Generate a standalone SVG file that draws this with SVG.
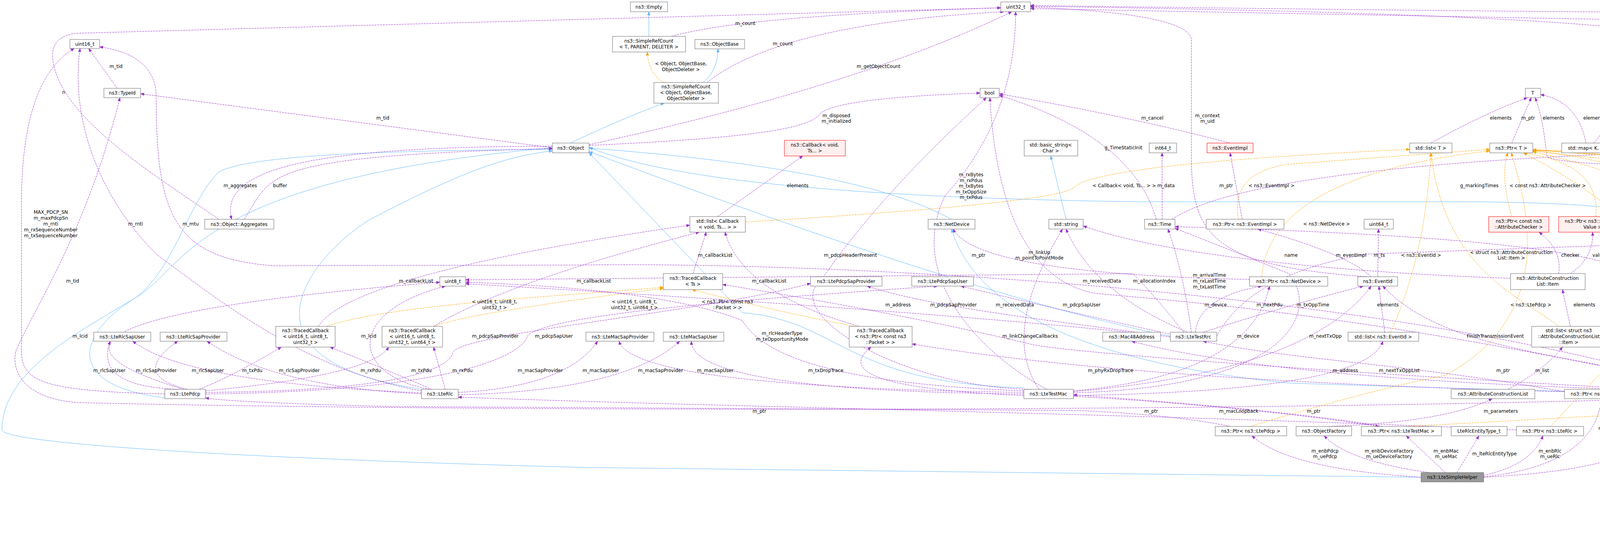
<svg xmlns="http://www.w3.org/2000/svg" width="6008" height="1379" viewBox="0 0 6008 1379">
<defs>
<style>
text{font-family:"DejaVu Sans","Liberation Sans",sans-serif;font-size:12px;fill:#000}
.n rect{fill:#fff;stroke:#666;stroke-width:1}
.r rect{fill:#fff0f0;stroke:#f00}
.h rect{fill:#999;stroke:#666}
.n text{text-anchor:middle}
.l text, text.l{text-anchor:middle}
.e{fill:none;stroke:#9a32cd;stroke-dasharray:5,2;marker-end:url(#ap)}
.b{fill:none;stroke:#63b8ff;marker-end:url(#ab)}
.o{fill:none;stroke:#ffa500;stroke-dasharray:5,2;marker-end:url(#ao)}
</style>
<marker id="ap" markerWidth="10" markerHeight="8" refX="9" refY="4" orient="auto" markerUnits="userSpaceOnUse"><path d="M0,0 L10,4 L0,8z" fill="#9a32cd"/></marker>
<marker id="ab" markerWidth="10" markerHeight="8" refX="9" refY="4" orient="auto" markerUnits="userSpaceOnUse"><path d="M0,0 L10,4 L0,8z" fill="#63b8ff"/></marker>
<marker id="ao" markerWidth="10" markerHeight="8" refX="9" refY="4" orient="auto" markerUnits="userSpaceOnUse"><path d="M0,0 L10,4 L0,8z" fill="#ffa500"/></marker>
</defs>
<rect width="6008" height="1379" fill="#fff"/>
<g id="edges">
<path class="b" d="M1661,93 L1661,30"/>
<path class="o" d="M1700,211 Q1660,190 1657,133"/>
<path class="b" d="M1800,211 Q1838,180 1838,125"/>
<path class="b" d="M1460,366 Q1600,300 1700,264"/>
<path class="b" d="M440,1020 C150,990 200,850 350,760 C480,680 500,460 1414,378"/>
<path class="b" d="M1110,1000 C560,930 800,650 950,560 C1200,430 1300,400 1414,386"/>
<path class="b" d="M3638,1221 L1500,1196 C500,1170 5,1130 5,1100 C5,950 200,850 350,760 C450,680 480,520 560,440 C650,390 1100,385 1414,382"/>
<path class="b" d="M2436,561 Q2200,430 1508,379"/>
<path class="b" d="M4243,561 Q4180,516 3700,516 L2900,516 Q1800,500 1508,377"/>
<path class="b" d="M2996,860 Q2500,760 1508,388"/>
<path class="b" d="M2621,992 C2160,980 2150,820 1900,800 L1508,391"/>
<path class="b" d="M4401,1010 Q3900,1000 3300,980 C2800,930 2500,800 2436,586"/>
<path class="b" d="M2729,561 L2690,399"/>
<path class="b" d="M4210,708 L4243,586"/>
<path class="e" d="M560,561 C400,450 150,300 135,150 Q130,90 200,85 L2562,20"/>
<path class="e" d="M1414,378 L360,240"/>
<path class="e" d="M1414,374 C800,375 560,430 593,561"/>
<path class="e" d="M625,561 C700,450 650,400 1414,380"/>
<path class="e" d="M300,226 L227,124"/>
<path class="e" d="M4401,1016 C3000,1060 1000,1050 200,1030 C60,1020 30,950 40,900 C80,800 220,600 307,250"/>
<path class="e" d="M422,1008 C120,1000 55,980 55,900 L55,500 Q60,200 190,124"/>
<path class="e" d="M1079,1000 C800,950 600,800 400,650 C250,500 180,300 205,124"/>
<path class="e" d="M4401,1004 C3500,720 2000,670 1500,678 L700,680 C450,660 400,560 400,250 Q400,140 255,120"/>
<path class="e" d="M470,996 C150,900 150,800 1126,722"/>
<path class="e" d="M1100,996 C900,960 880,800 1140,732"/>
<path class="o" d="M835,835 C1000,780 1400,760 1698,735"/>
<path class="o" d="M1110,835 Q1200,800 1698,738"/>
<path class="e" d="M815,835 Q900,700 1766,576"/>
<path class="e" d="M1110,835 Q1300,720 1790,594"/>
<path class="e" d="M1774,700 L1808,594"/>
<path class="e" d="M2200,835 Q1900,750 1856,594"/>
<path class="o" d="M2190,835 Q2000,800 1772,741"/>
<path class="e" d="M460,996 Q240,990 282,873"/>
<path class="e" d="M1079,1005 Q480,980 340,873"/>
<path class="e" d="M480,996 Q330,960 455,873"/>
<path class="e" d="M1085,1008 Q700,990 530,873"/>
<path class="e" d="M510,996 Q600,960 720,888"/>
<path class="e" d="M1105,996 Q1000,950 845,888"/>
<path class="e" d="M526,1000 Q950,960 995,888"/>
<path class="e" d="M1140,996 L1110,888"/>
<path class="e" d="M526,1004 C1000,1000 1150,950 1160,900 C1200,850 1800,800 2075,725"/>
<path class="e" d="M526,1008 C1200,1000 1340,900 1350,860 C1400,800 2000,760 2400,732"/>
<path class="e" d="M2996,862 C2700,820 2400,790 2220,732"/>
<path class="e" d="M3000,856 Q2700,790 2460,732"/>
<path class="e" d="M1173,1004 Q1450,990 1530,873"/>
<path class="e" d="M1173,1010 Q1600,1000 1740,873"/>
<path class="e" d="M2621,1004 Q1620,990 1585,873"/>
<path class="e" d="M2621,1008 Q1770,1000 1770,873"/>
<path class="e" d="M1720,93 Q1900,40 2562,20"/>
<path class="e" d="M1810,211 Q2000,60 2570,30"/>
<path class="e" d="M1508,370 Q2200,220 2590,30"/>
<path class="e" d="M1508,372 C2000,350 2080,320 2100,290 Q2150,250 2509,238"/>
<path class="e" d="M1837,554 L2055,399"/>
<path class="o" d="M1908,568 Q2700,520 2750,480 Q2800,420 3609,382"/>
<path class="e" d="M2640,996 C2300,990 2000,800 2100,720 Q2250,500 2525,250"/>
<path class="e" d="M2680,996 C2500,900 2320,700 2420,500 Q2600,300 2600,30"/>
<path class="e" d="M3199,715 Q2500,700 2440,586"/>
<path class="e" d="M4401,1000 C3500,800 3000,770 2800,750 Q2560,700 2534,250"/>
<path class="e" d="M3040,850 Q2800,750 2729,586"/>
<path class="e" d="M2660,996 Q2560,850 2720,586"/>
<path class="e" d="M3149,366 Q2900,300 2558,240"/>
<path class="e" d="M2960,561 Q2900,350 2558,244"/>
<path class="e" d="M2975,561 L2975,391"/>
<path class="e" d="M4401,1002 Q3300,980 2897,873"/>
<path class="e" d="M2890,850 Q2300,790 1192,726"/>
<path class="e" d="M3030,850 Q2960,760 2900,700 L1192,716"/>
<path class="e" d="M2621,1012 Q2100,990 2230,888"/>
<path class="e" d="M4401,1010 Q3000,990 2335,880"/>
<path class="e" d="M2621,1000 C2100,980 1950,900 1900,820 Q1700,740 1192,722"/>
<path class="e" d="M4401,1006 C3500,960 2700,900 2637,880 Q2300,800 1850,728"/>
<path class="e" d="M3882,1100 C3000,1060 1800,1040 1173,1016"/>
<path class="e" d="M3150,1091 Q3000,1060 2750,1050 L1000,1040 Q600,1030 526,1018"/>
<path class="e" d="M3540,1091 Q3300,1050 2748,1010"/>
<path class="e" d="M3180,561 L3149,391"/>
<path class="e" d="M3500,708 C3100,680 3050,600 3050,400 L3050,100 Q3040,35 2638,18"/>
<path class="e" d="M4260,561 Q4305,300 4305,110 Q4300,40 2638,16"/>
<path class="e" d="M3663,366 Q3800,290 3910,250"/>
<path class="e" d="M3870,366 L3920,250"/>
<path class="e" d="M5260,463 C5000,430 4000,440 3960,400 Q3950,300 3930,250"/>
<path class="e" d="M4060,366 Q4040,260 3944,242"/>
<path class="e" d="M4080,366 L4175,250"/>
<path class="e" d="M4210,366 L4190,250"/>
<path class="o" d="M3170,561 Q3150,440 3300,420 L3814,382"/>
<path class="e" d="M3000,561 Q3200,430 4200,391"/>
<path class="o" d="M3870,554 Q3840,450 3860,391"/>
<path class="o" d="M4085,554 Q4100,420 3900,391"/>
<path class="o" d="M3230,708 Q3250,450 3814,386"/>
<path class="e" d="M3510,708 Q3450,650 3220,586"/>
<path class="e" d="M3527,708 L3529,586"/>
<path class="o" d="M3560,850 Q3650,650 3663,391"/>
<path class="o" d="M3990,835 C3900,760 3700,700 3663,391"/>
<path class="e" d="M3990,700 Q4000,640 3940,594"/>
<path class="e" d="M4020,700 Q4080,660 4077,594"/>
<path class="e" d="M3867,712 C3500,700 3000,660 2773,578"/>
<path class="e" d="M4180,708 Q4100,610 3008,580"/>
<path class="o" d="M4480,850 Q4480,700 4450,680 Q4400,440 3924,385"/>
<path class="e" d="M3050,850 Q3030,700 2990,586"/>
<path class="e" d="M3060,850 Q3070,760 3230,732"/>
<path class="e" d="M3080,850 Q3300,780 3490,732"/>
<path class="e" d="M2748,1005 C3300,990 3380,800 3300,700 Q3100,620 3008,584"/>
<path class="e" d="M3545,850 L3530,732"/>
<path class="o" d="M3200,1091 Q3500,1000 3700,960 C4000,800 3900,500 3869,391"/>
<path class="e" d="M4020,835 L4000,741"/>
<path class="o" d="M3970,1091 Q4100,950 4250,800 Q4300,600 3900,391"/>
<path class="e" d="M4430,850 Q4380,760 4250,732"/>
<path class="o" d="M4130,996 Q4300,850 4400,700 Q4420,500 3924,388"/>
<path class="e" d="M2748,1000 Q3200,960 3250,732"/>
<path class="e" d="M2748,1002 Q3350,950 3510,732"/>
<path class="e" d="M4401,998 C4000,900 3700,900 3540,732"/>
<path class="e" d="M2748,1012 Q3500,1000 3540,873"/>
<path class="e" d="M4005,1002 C3600,930 3300,920 3080,873"/>
<path class="e" d="M3860,996 Q3950,950 4000,888"/>
<path class="e" d="M4250,732 Q4330,850 4330,1000 Q4350,1080 4600,1100 L5293,1215"/>
<path class="e" d="M4230,732 Q4290,900 4420,1060 Q4600,1140 5392,1330"/>
<path class="e" d="M2748,1014 Q3200,1040 3530,1091"/>
<path class="e" d="M3400,1091 Q3700,1080 3820,1020"/>
<path class="e" d="M3798,1221 Q4200,1200 4240,1100 Q4300,1030 4400,873"/>
<path class="e" d="M3638,1221 Q3300,1200 3205,1115"/>
<path class="e" d="M3660,1209 Q3450,1180 3390,1115"/>
<path class="e" d="M3700,1209 L3600,1115"/>
<path class="e" d="M3730,1209 L3786,1115"/>
<path class="e" d="M3798,1216 Q3920,1190 3950,1115"/>
<path class="e" d="M3798,1220 Q4080,1190 4100,1020"/>
<path class="e" d="M3115,860 Q3200,700 3500,650 L4200,625 Q5300,600 5340,500 L5375,110 Q5380,80 5200,70 L2638,22"/>
<path class="e" d="M4567,1000 Q5400,950 5485,800 L5487,100 Q5480,30 5300,32 Q4500,40 2638,14"/>
<path class="e" d="M4510,996 Q4590,900 4590,800 Q4600,720 4660,675"/>
<path class="e" d="M4520,996 Q4650,900 4820,667"/>
<path class="e" d="M4530,996 Q4700,950 4700,850 Q4700,800 4808,790"/>
<path class="e" d="M4550,996 Q4800,960 4910,896"/>
<path class="e" d="M4567,998 Q5000,980 5120,903"/>
<path class="o" d="M4660,634 Q4560,500 4450,430 Q4200,420 3924,386"/>
<path class="o" d="M4840,641 Q4780,480 4700,440 L3924,384"/>
<path class="o" d="M4915,768 Q4940,600 4930,470 Q4900,420 3924,383"/>
<path class="o" d="M3600,1091 Q4000,1070 4500,1040 Q5200,960 5320,860 Q5200,800 5100,790 Q5000,700 5080,600 Q5050,440 3924,384"/>
<path class="o" d="M5390,1084 Q5400,800 5300,720 Q5100,460 3924,383"/>
<path class="o" d="M5440,1201 Q5520,1130 5520,1000 L5520,800 Q5400,700 5270,489"/>
<path class="o" d="M5634,1320 Q5740,1300 5740,1150 L5740,900 Q5600,600 5300,450 Q4800,415 4100,391"/>
<path class="e" d="M5298,1092 L4567,1016"/>
<path class="e" d="M5395,1201 L5392,1123"/>
<path class="e" d="M5525,1304 Q5530,1200 5430,1123"/>
<path class="e" d="M5480,1304 L5420,1240"/>
<path class="e" d="M4480,996 L4470,873"/>
<g class="l">
<text x="163" y="240">n</text>
<text x="980" y="306">m_tid</text>
<text x="615" y="479">m_aggregates</text>
<text x="717" y="479">buffer</text>
<text x="297" y="174">m_tid</text>
<text x="186" y="723">m_tid</text>
<text x="130" y="547">MAX_PDCP_SN</text><text x="130" y="562">m_maxPdcpSn</text><text x="130" y="577">m_rnti</text><text x="130" y="592">m_rxSequenceNumber</text><text x="130" y="607">m_txSequenceNumber</text>
<text x="347" y="577">m_rnti</text>
<text x="488" y="577">m_mtu</text>
<text x="205" y="864">m_lcid</text>
<text x="944" y="864">m_lcid</text>
<text x="1266" y="776">&lt; uint16_t, uint8_t,</text><text x="1266" y="791">uint32_t &gt;</text>
<text x="1624" y="776">&lt; uint16_t, uint8_t,</text><text x="1624" y="791">uint32_t, uint64_t &gt;</text>
<text x="1065" y="723">m_callbackList</text>
<text x="1520" y="723">m_callbackList</text>
<text x="1831" y="657">m_callbackList</text>
<text x="1969" y="723">m_callbackList</text>
<text x="1862" y="776">&lt; ns3::Ptr&lt; const ns3</text><text x="1862" y="791">::Packet &gt; &gt;</text>
<text x="280" y="952">m_rlcSapUser</text>
<text x="532" y="952">m_rlcSapUser</text>
<text x="400" y="952">m_rlcSapProvider</text>
<text x="766" y="952">m_rlcSapProvider</text>
<text x="646" y="952">m_txPdu</text>
<text x="1079" y="952">m_txPdu</text>
<text x="949" y="952">m_rxPdu</text>
<text x="1184" y="952">m_rxPdu</text>
<text x="1268" y="864">m_pdcpSapProvider</text>
<text x="1418" y="864">m_pdcpSapUser</text>
<text x="2441" y="784">m_pdcpSapProvider</text>
<text x="2769" y="784">m_pdcpSapUser</text>
<text x="1383" y="952">m_macSapProvider</text>
<text x="1538" y="952">m_macSapUser</text>
<text x="1691" y="952">m_macSapProvider</text>
<text x="1831" y="952">m_macSapUser</text>
<text x="1908" y="64">m_count</text>
<text x="2004" y="116">m_count</text>
<text x="1743" y="167">&lt; Object, ObjectBase,</text><text x="1743" y="182">ObjectDeleter &gt;</text>
<text x="2249" y="174">m_getObjectCount</text>
<text x="2141" y="300">m_disposed</text><text x="2141" y="314">m_initialized</text>
<text x="2042" y="479">elements</text>
<text x="2878" y="479">&lt; Callback&lt; void, Ts... &gt; &gt;</text>
<text x="2177" y="657">m_pdcpHeaderPresent</text>
<text x="2486" y="451">m_rxBytes</text><text x="2486" y="466">m_rxPdus</text><text x="2486" y="480">m_txBytes</text><text x="2486" y="495">m_txOppSize</text><text x="2486" y="509">m_txPdus</text>
<text x="2505" y="657">m_ptr</text>
<text x="2661" y="650">m_linkUp</text><text x="2661" y="664">m_pointToPointMode</text>
<text x="2821" y="723">m_receivedData</text>
<text x="2598" y="784">m_receivedData</text>
<text x="2950" y="306">m_cancel</text>
<text x="2876" y="382">g_TimeStaticInit</text>
<text x="2985" y="479">m_data</text>
<text x="2299" y="784">m_address</text>
<text x="2955" y="723">m_allocationIndex</text>
<text x="3444" y="952">m_address</text>
<text x="2114" y="952">m_txDropTrace</text>
<text x="2843" y="952">m_phyRxDropTrace</text>
<text x="2002" y="857">m_rlcHeaderType</text><text x="2002" y="872">m_txOpportunityMode</text>
<text x="2637" y="864">m_linkChangeCallbacks</text>
<text x="1944" y="1056">m_ptr</text>
<text x="2947" y="1056">m_ptr</text>
<text x="3363" y="1056">m_ptr</text>
<text x="3139" y="479">m_ptr</text>
<text x="3091" y="300">m_context</text><text x="3091" y="314">m_uid</text>
<text x="4325" y="240">m_id</text>
<text x="3842" y="306">elements</text>
<text x="3912" y="306">m_ptr</text>
<text x="3977" y="306">elements</text>
<text x="4081" y="306">elements</text>
<text x="4166" y="306">keys</text>
<text x="4220" y="306">keys</text>
<text x="3255" y="479">&lt; ns3::EventImpl &gt;</text>
<text x="3787" y="479">g_markingTimes</text>
<text x="3962" y="479">&lt; const ns3::AttributeChecker &gt;</text>
<text x="4169" y="479">&lt; ns3::AttributeValue &gt;</text>
<text x="3396" y="577">&lt; ns3::NetDevice &gt;</text>
<text x="3459" y="657">m_eventImpl</text>
<text x="3531" y="657">m_ts</text>
<text x="3638" y="657">&lt; ns3::EventId &gt;</text>
<text x="3869" y="650">&lt; struct ns3::AttributeConstruction</text><text x="3869" y="664">List::Item &gt;</text>
<text x="4020" y="657">checker</text>
<text x="4093" y="657">value</text>
<text x="3305" y="657">name</text>
<text x="4203" y="657">m_delay</text>
<text x="4464" y="657">&lt; ns3::SimpleChannel &gt;</text>
<text x="3096" y="708">m_arrivalTime</text><text x="3096" y="723">m_rxLastTime</text><text x="3096" y="738">m_txLastTime</text>
<text x="3112" y="784">m_device</text>
<text x="3250" y="784">m_nextPdu</text>
<text x="3361" y="784">m_txOppTime</text>
<text x="3553" y="784">elements</text>
<text x="3919" y="784">&lt; ns3::LtePdcp &gt;</text>
<text x="4056" y="784">elements</text>
<text x="4254" y="784">&lt; ns3::LteRlc &gt;</text>
<text x="4409" y="784">m_ptr</text>
<text x="4424" y="723">&lt; ns3::LteTestRrc &gt;</text>
<text x="3195" y="864">m_device</text>
<text x="3393" y="864">m_nextTxOpp</text>
<text x="3828" y="864">FinishTransmissionEvent</text>
<text x="3582" y="952">m_nextTxOppList</text>
<text x="3848" y="952">m_ptr</text>
<text x="3948" y="952">m_list</text>
<text x="4354" y="1011">m_devices</text>
<text x="4416" y="1056">m_blackListedDevices</text>
<text x="3171" y="1056">m_macLoopback</text>
<text x="3842" y="1056">m_parameters</text>
<text x="4263" y="1056">m_phyChannel</text>
<text x="4480" y="952">m_channel</text>
<text x="3392" y="1158">m_enbPdcp</text><text x="3392" y="1172">m_uePdcp</text>
<text x="3556" y="1158">m_enbDeviceFactory</text><text x="3556" y="1172">m_ueDeviceFactory</text>
<text x="3702" y="1158">m_enbMac</text><text x="3702" y="1172">m_ueMac</text>
<text x="3826" y="1165">m_lteRlcEntityType</text>
<text x="3968" y="1158">m_enbRlc</text><text x="3968" y="1172">m_ueRlc</text>
<text x="4122" y="1100">m_enbRrc</text><text x="4122" y="1114">m_ueRrc</text>
<text x="5412" y="352">m_pduSize</text><text x="5412" y="367">m_rxBytes</text><text x="5412" y="381">m_rxPdus</text><text x="5412" y="396">m_txBytes</text><text x="5412" y="411">m_txPdus</text>
<text x="5523" y="479">m_ifIndex</text>
<text x="4643" y="784">m_queue</text>
<text x="4770" y="784">m_node</text>
<text x="4804" y="864">m_receiveErrorModel</text>
<text x="4899" y="952">m_rxCallback</text>
<text x="5139" y="952">m_promiscCallback</text>
<text x="4627" y="472">&lt; ns3::Queue&lt; ns3::</text><text x="4627" y="486">Packet &gt; &gt;</text>
<text x="4826" y="479">&lt; ns3::Node &gt;</text>
<text x="5011" y="577">&lt; ns3::ErrorModel &gt;</text>
<text x="5192" y="784">&lt; ns3::LteTestMac &gt;</text>
<text x="5414" y="784">&lt; ns3::SimpleNetDevice &gt;</text>
<text x="5612" y="857">&lt; ns3::Ptr&lt; ns3::SimpleNet</text><text x="5612" y="872">Device &gt; &gt;</text>
<text x="5866" y="938">&lt; ns3::Ptr&lt; ns3::SimpleNet</text><text x="5866" y="952">Device &gt;, std::vector&lt;</text><text x="5866" y="967">ns3::Ptr&lt; ns3::SimpleNetDevice &gt; &gt; &gt;</text>
<text x="4985" y="1056">m_ptr</text>
<text x="5428" y="1165">elements</text>
<text x="5545" y="1225">keys</text>
<text x="5489" y="1275">elements</text>
</g>
</g>
<g id="n_uint16" class="n"><rect x="179" y="101" width="76" height="23"/><text x="217" y="117">uint16_t</text></g>
<g id="n_typeid" class="n"><rect x="266" y="226" width="94" height="24"/><text x="313" y="242">ns3::TypeId</text></g>
<g id="n_object" class="n"><rect x="1414" y="366" width="94" height="25"/><text x="1461" y="383">ns3::Object</text></g>
<g id="n_aggregates" class="n"><rect x="524" y="561" width="177" height="25"/><text x="612" y="578">ns3::Object::Aggregates</text></g>
<g id="n_uint8" class="n"><rect x="1126" y="708" width="66" height="24"/><text x="1159" y="724">uint8_t</text></g>
<g id="n_tc3" class="n"><rect x="706" y="835" width="152" height="53"/><text x="782" y="850">ns3::TracedCallback</text><text x="782" y="865">&lt; uint16_t, uint8_t,</text><text x="782" y="880">uint32_t &gt;</text></g>
<g id="n_tc4" class="n"><rect x="978" y="835" width="155" height="53"/><text x="1055" y="850">ns3::TracedCallback</text><text x="1055" y="865">&lt; uint16_t, uint8_t,</text><text x="1055" y="880">uint32_t, uint64_t &gt;</text></g>
<g id="n_rlcsapuser" class="n"><rect x="240" y="850" width="146" height="23"/><text x="313" y="866">ns3::LteRlcSapUser</text></g>
<g id="n_rlcsapprov" class="n"><rect x="410" y="850" width="171" height="23"/><text x="495" y="866">ns3::LteRlcSapProvider</text></g>
<g id="n_ltepdcp" class="n"><rect x="422" y="996" width="104" height="24"/><text x="474" y="1012">ns3::LtePdcp</text></g>
<g id="n_lterlc" class="n"><rect x="1079" y="996" width="94" height="24"/><text x="1126" y="1012">ns3::LteRlc</text></g>
<g id="n_macsapprov" class="n"><rect x="1500" y="850" width="174" height="23"/><text x="1587" y="866">ns3::LteMacSapProvider</text></g>
<g id="n_macsapuser" class="n"><rect x="1698" y="850" width="155" height="23"/><text x="1775" y="866">ns3::LteMacSapUser</text></g>
<g id="n_empty" class="n"><rect x="1614" y="5" width="95" height="25"/><text x="1661" y="22">ns3::Empty</text></g>
<g id="n_uint32" class="n"><rect x="2562" y="5" width="76" height="25"/><text x="2600" y="22">uint32_t</text></g>
<g id="n_srct" class="n"><rect x="1568" y="93" width="187" height="40"/><text x="1661" y="109">ns3::SimpleRefCount</text><text x="1661" y="124">&lt; T, PARENT, DELETER &gt;</text></g>
<g id="n_objectbase" class="n"><rect x="1779" y="101" width="127" height="24"/><text x="1842" y="117">ns3::ObjectBase</text></g>
<g id="n_srcobj" class="n"><rect x="1674" y="211" width="165" height="53"/><text x="1756" y="226">ns3::SimpleRefCount</text><text x="1756" y="241">&lt; Object, ObjectBase,</text><text x="1756" y="256">ObjectDeleter &gt;</text></g>
<g id="n_bool" class="n"><rect x="2509" y="226" width="49" height="24"/><text x="2533" y="242">bool</text></g>
<g id="n_cbvoid" class="n r"><rect x="2008" y="359" width="156" height="40"/><text x="2086" y="375">ns3::Callback&lt; void,</text><text x="2086" y="390">Ts... &gt;</text></g>
<g id="n_basicstring" class="n"><rect x="2622" y="359" width="137" height="40"/><text x="2690" y="375">std::basic_string&lt;</text><text x="2690" y="390">Char &gt;</text></g>
<g id="n_int64" class="n"><rect x="2942" y="366" width="70" height="25"/><text x="2977" y="383">int64_t</text></g>
<g id="n_listcb" class="n"><rect x="1766" y="554" width="142" height="40"/><text x="1837" y="570">std::list&lt; Callback</text><text x="1837" y="585">&lt; void, Ts... &gt; &gt;</text></g>
<g id="n_netdevice" class="n"><rect x="2376" y="561" width="120" height="25"/><text x="2436" y="578">ns3::NetDevice</text></g>
<g id="n_string" class="n"><rect x="2685" y="561" width="88" height="25"/><text x="2729" y="578">std::string</text></g>
<g id="n_time" class="n"><rect x="2930" y="561" width="78" height="25"/><text x="2969" y="578">ns3::Time</text></g>
<g id="n_tcts" class="n"><rect x="1698" y="700" width="152" height="41"/><text x="1774" y="716">ns3::TracedCallback</text><text x="1774" y="731">&lt; Ts &gt;</text></g>
<g id="n_pdcpsapprov" class="n"><rect x="2075" y="708" width="183" height="24"/><text x="2166" y="724">ns3::LtePdcpSapProvider</text></g>
<g id="n_pdcpsapuser" class="n"><rect x="2334" y="708" width="158" height="24"/><text x="2413" y="724">ns3::LtePdcpSapUser</text></g>
<g id="n_tcpkt" class="n"><rect x="2174" y="835" width="161" height="53"/><text x="2254" y="850">ns3::TracedCallback</text><text x="2254" y="865">&lt; ns3::Ptr&lt; const ns3</text><text x="2254" y="880">::Packet &gt; &gt;</text></g>
<g id="n_mac48" class="n"><rect x="2823" y="850" width="148" height="23"/><text x="2897" y="866">ns3::Mac48Address</text></g>
<g id="n_ltetestmac" class="n"><rect x="2621" y="996" width="127" height="24"/><text x="2684" y="1012">ns3::LteTestMac</text></g>
<g id="n_ltetestrrc" class="n"><rect x="2996" y="850" width="119" height="23"/><text x="3055" y="866">ns3::LteTestRrc</text></g>
<g id="n_eventimpl" class="n r"><rect x="3090" y="366" width="118" height="25"/><text x="3149" y="383">ns3::EventImpl</text></g>
<g id="n_listt" class="n"><rect x="3609" y="366" width="108" height="25"/><text x="3663" y="383">std::list&lt; T &gt;</text></g>
<g id="n_ptrt" class="n"><rect x="3814" y="366" width="110" height="25"/><text x="3869" y="383">ns3::Ptr&lt; T &gt;</text></g>
<g id="n_mapkt" class="n"><rect x="3998" y="366" width="136" height="25"/><text x="4066" y="383">std::map&lt; K, T &gt;</text></g>
<g id="n_setk" class="n"><rect x="4158" y="366" width="111" height="25"/><text x="4213" y="383">std::set&lt; K &gt;</text></g>
<g id="n_t" class="n"><rect x="3905" y="226" width="39" height="24"/><text x="3924" y="242">T</text></g>
<g id="n_k" class="n"><rect x="4167" y="226" width="39" height="24"/><text x="4186" y="242">K</text></g>
<g id="n_ptreventimpl" class="n"><rect x="3088" y="561" width="199" height="25"/><text x="3187" y="578">ns3::Ptr&lt; ns3::EventImpl &gt;</text></g>
<g id="n_uint64" class="n"><rect x="3492" y="561" width="75" height="25"/><text x="3529" y="578">uint64_t</text></g>
<g id="n_ptrchecker" class="n r"><rect x="3811" y="554" width="154" height="40"/><text x="3888" y="570">ns3::Ptr&lt; const ns3</text><text x="3888" y="585">::AttributeChecker &gt;</text></g>
<g id="n_ptrvalue" class="n r"><rect x="3990" y="554" width="175" height="40"/><text x="4077" y="570">ns3::Ptr&lt; ns3::Attribute</text><text x="4077" y="585">Value &gt;</text></g>
<g id="n_channel" class="n"><rect x="4190" y="561" width="107" height="25"/><text x="4243" y="578">ns3::Channel</text></g>
<g id="n_ptrnetdevice" class="n"><rect x="3199" y="708" width="200" height="24"/><text x="3299" y="724">ns3::Ptr&lt; ns3::NetDevice &gt;</text></g>
<g id="n_eventid" class="n"><rect x="3476" y="708" width="102" height="24"/><text x="3527" y="724">ns3::EventId</text></g>
<g id="n_aclitem" class="n"><rect x="3867" y="700" width="191" height="41"/><text x="3962" y="716">ns3::AttributeConstruction</text><text x="3962" y="731">List::Item</text></g>
<g id="n_simplechannel" class="n"><rect x="4133" y="708" width="151" height="24"/><text x="4208" y="724">ns3::SimpleChannel</text></g>
<g id="n_listeventid" class="n"><rect x="3451" y="850" width="181" height="23"/><text x="3541" y="866">std::list&lt; ns3::EventId &gt;</text></g>
<g id="n_listitem" class="n"><rect x="3921" y="835" width="191" height="53"/><text x="4016" y="850">std::list&lt; struct ns3</text><text x="4016" y="865">::AttributeConstructionList</text><text x="4016" y="880">::Item &gt;</text></g>
<g id="n_ptrsimplechannel" class="n"><rect x="4340" y="850" width="229" height="23"/><text x="4454" y="866">ns3::Ptr&lt; ns3::SimpleChannel &gt;</text></g>
<g id="n_acl" class="n"><rect x="3715" y="996" width="214" height="24"/><text x="3822" y="1012">ns3::AttributeConstructionList</text></g>
<g id="n_ptrltetestrrc" class="n"><rect x="4005" y="996" width="198" height="24"/><text x="4104" y="1012">ns3::Ptr&lt; ns3::LteTestRrc &gt;</text></g>
<g id="n_simplenetdevice" class="n r"><rect x="4401" y="996" width="166" height="24"/><text x="4484" y="1012">ns3::SimpleNetDevice</text></g>
<g id="n_ptrltepdcp" class="n"><rect x="3111" y="1091" width="183" height="24"/><text x="3202" y="1107">ns3::Ptr&lt; ns3::LtePdcp &gt;</text></g>
<g id="n_objectfactory" class="n"><rect x="3318" y="1091" width="142" height="24"/><text x="3389" y="1107">ns3::ObjectFactory</text></g>
<g id="n_ptrltetestmac" class="n"><rect x="3485" y="1091" width="205" height="24"/><text x="3587" y="1107">ns3::Ptr&lt; ns3::LteTestMac &gt;</text></g>
<g id="n_rlcentitytype" class="n"><rect x="3715" y="1091" width="143" height="24"/><text x="3786" y="1107">LteRlcEntityType_t</text></g>
<g id="n_ptrlterlc" class="n"><rect x="3882" y="1091" width="172" height="24"/><text x="3968" y="1107">ns3::Ptr&lt; ns3::LteRlc &gt;</text></g>
<g id="n_helper" class="n h"><rect x="3638" y="1209" width="160" height="24"/><text x="3718" y="1225">ns3::LteSimpleHelper</text></g>
<g id="n_vectort" class="n"><rect x="5193" y="463" width="128" height="26"/><text x="5257" y="480">std::vector&lt; T &gt;</text></g>
<g id="n_ptrqueue" class="n r"><rect x="4599" y="634" width="156" height="41"/><text x="4677" y="650">ns3::Ptr&lt; ns3::Queue</text><text x="4677" y="665">&lt; ns3::Packet &gt; &gt;</text></g>
<g id="n_ptrnode" class="n r"><rect x="4764" y="641" width="165" height="26"/><text x="4846" y="658">ns3::Ptr&lt; ns3::Node &gt;</text></g>
<g id="n_ptrerrormodel" class="n r"><rect x="4808" y="768" width="202" height="25"/><text x="4909" y="785">ns3::Ptr&lt; ns3::ErrorModel &gt;</text></g>
<g id="n_cbbool1" class="n r"><rect x="4886" y="827" width="182" height="69"/><text x="4977" y="842">ns3::Callback&lt; bool,</text><text x="4977" y="857">Ptr&lt; NetDevice &gt;, Ptr</text><text x="4977" y="872">&lt; const Packet &gt;, uint16</text><text x="4977" y="887">_t, const Address &amp; &gt;</text></g>
<g id="n_cbbool2" class="n r"><rect x="5093" y="820" width="228" height="83"/><text x="5207" y="835">ns3::Callback&lt; bool,</text><text x="5207" y="850">Ptr&lt; NetDevice &gt;, Ptr</text><text x="5207" y="865">&lt; const Packet &gt;, uint16</text><text x="5207" y="880">_t, const Address &amp;, const</text><text x="5207" y="895">Address &amp;, enum PacketType &gt;</text></g>
<g id="n_ptrsnd" class="n"><rect x="5298" y="1084" width="184" height="39"/><text x="5390" y="1100">ns3::Ptr&lt; ns3::SimpleNet</text><text x="5390" y="1115">Device &gt;</text></g>
<g id="n_vectorptrsnd" class="n"><rect x="5293" y="1201" width="209" height="39"/><text x="5397" y="1217">std::vector&lt; ns3::Ptr</text><text x="5397" y="1232">&lt; ns3::SimpleNetDevice &gt; &gt;</text></g>
<g id="n_mapsnd" class="n"><rect x="5392" y="1304" width="242" height="68"/><text x="5513" y="1319">std::map&lt; ns3::Ptr</text><text x="5513" y="1334">&lt; ns3::SimpleNetDevice</text><text x="5513" y="1349">&gt;, std::vector&lt; ns3::</text><text x="5513" y="1364">Ptr&lt; ns3::SimpleNetDevice &gt; &gt; &gt;</text></g>
</svg>
